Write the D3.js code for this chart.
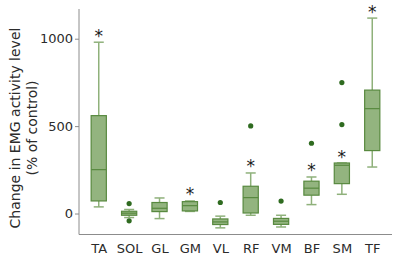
<!DOCTYPE html>
<html>
<head>
<meta charset="utf-8">
<script src="https://cdn.jsdelivr.net/npm/d3@7/dist/d3.min.js"></script>
<style>
html,body{margin:0;padding:0;background:#fff;}
svg{display:block;font-family:"DejaVu Sans",sans-serif;}
.ast{opacity:0.99;}
</style>
</head>
<body>
<svg id="chart" width="397" height="259"></svg>
<script>
const categories = ["TA","SOL","GL","GM","VL","RF","VM","BF","SM","TF"];
const whiskerLow  = [38, -23, -29, 12, -82, -10, -77, 51, 110, 266];
const q1          = [72, -10, 11, 15, -63, 3, -62, 105, 171, 360];
const median      = [251, 2, 30, 45, -48, 91, -44, 145, 276, 600];
const q3          = [560, 13, 63, 68, -31, 156, -28, 185, 289, 706];
const whiskerHigh = [980, 23, 89, 72, -15, 232, -10, 209, 289, 1118];
const outliers    = [[], [57, -42], [], [], [63], [501], [71], [402], [509, 749], []];
const significant = [true, false, false, true, false, true, false, true, true, true];
const yTicks = [0, 500, 1000];

const svg = d3.select("#chart");
const x = d3.scalePoint().domain(categories).range([79, 392]).padding(0.65);
const y = d3.scaleLinear().domain([-120, 1170]).range([234.5, 9]);
const step = x.step();
const boxW = step * 0.5;
const capW = step * 0.33;

const fill = "#93b47f", stroke = "#58893f", whisk = "#8fb17b", dot = "#2f6b20";
const txt = "#2b2b2b";

// axes
const yAxis = d3.axisLeft(y).tickValues(yTicks).tickSize(4).tickPadding(2).tickFormat(d3.format("d"));
const gy = svg.append("g").attr("transform","translate(79,0)").call(yAxis);
gy.select(".domain").remove();
gy.selectAll(".tick line").attr("stroke","#8c8c8c");
gy.selectAll(".tick text").attr("fill",txt).style("font-size","13px").style("font-family","DejaVu Sans");

svg.append("line").attr("x1",79).attr("x2",79).attr("y1",y.range()[1]).attr("y2",y.range()[0]).attr("stroke","#8c8c8c");
svg.append("line").attr("x1",79).attr("x2",392).attr("y1",y.range()[0]).attr("y2",y.range()[0]).attr("stroke","#8c8c8c");

const xAxis = d3.axisBottom(x).tickSize(0).tickPadding(9);
const gx = svg.append("g").attr("transform",`translate(0,${y.range()[0]})`).call(xAxis);
gx.select(".domain").remove();
gx.selectAll(".tick text").attr("fill",txt).style("font-size","13px").style("font-family","DejaVu Sans");

// y title
svg.append("text").attr("transform","translate(20,128) rotate(-90)").attr("fill",txt).style("font-size","14px").attr("text-anchor","middle").text("Change in EMG activity level");
svg.append("text").attr("transform","translate(37,128) rotate(-90)").attr("fill",txt).style("font-size","14px").attr("text-anchor","middle").text("(% of control)");

const data = categories.map((c,i)=>({c, lo:whiskerLow[i], q1:q1[i], med:median[i], q3:q3[i], hi:whiskerHigh[i], out:outliers[i], sig:significant[i]}));

const g = svg.append("g");
const b = g.selectAll("g.box").data(data).enter().append("g").attr("class","box");
// whiskers
b.append("line").attr("x1",d=>x(d.c)).attr("x2",d=>x(d.c)).attr("y1",d=>y(d.hi)).attr("y2",d=>y(d.q3)).attr("stroke",whisk).attr("stroke-width",1.5);
b.append("line").attr("x1",d=>x(d.c)).attr("x2",d=>x(d.c)).attr("y1",d=>y(d.lo)).attr("y2",d=>y(d.q1)).attr("stroke",whisk).attr("stroke-width",1.5);
b.append("line").attr("x1",d=>x(d.c)-capW/2).attr("x2",d=>x(d.c)+capW/2).attr("y1",d=>y(d.hi)).attr("y2",d=>y(d.hi)).attr("stroke",whisk).attr("stroke-width",1.5);
b.append("line").attr("x1",d=>x(d.c)-capW/2).attr("x2",d=>x(d.c)+capW/2).attr("y1",d=>y(d.lo)).attr("y2",d=>y(d.lo)).attr("stroke",whisk).attr("stroke-width",1.5);
// box
b.append("rect").attr("x",d=>x(d.c)-boxW/2).attr("width",boxW).attr("y",d=>y(d.q3)).attr("height",d=>y(d.q1)-y(d.q3)).attr("fill",fill).attr("stroke",stroke).attr("stroke-width",1.2);
b.append("line").attr("x1",d=>x(d.c)-boxW/2).attr("x2",d=>x(d.c)+boxW/2).attr("y1",d=>y(d.med)).attr("y2",d=>y(d.med)).attr("stroke",stroke).attr("stroke-width",1.2);
// outliers
b.selectAll("circle").data(d=>d.out.map(v=>({c:d.c,v}))).enter().append("circle").attr("cx",d=>x(d.c)).attr("cy",d=>y(d.v)).attr("r",2.6).attr("fill",dot);
// asterisks
b.filter(d=>d.sig).append("text").attr("class","ast").attr("x",d=>x(d.c)).attr("y",d=>y(d.hi)-0.5).attr("text-anchor","middle").attr("fill","#1a1a1a").style("font-size","17px").style("font-family","DejaVu Sans").text("*");
</script>
</body>
</html>
